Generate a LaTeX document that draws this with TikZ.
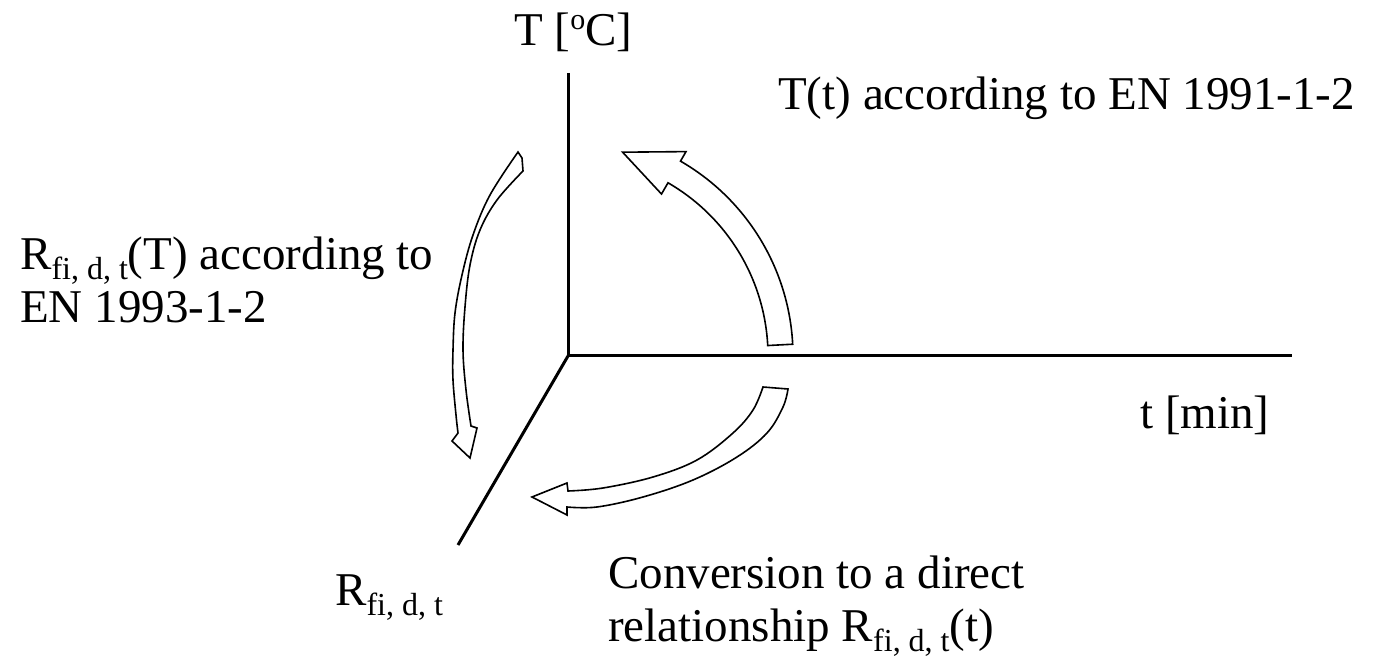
\documentclass[tikz,border=0pt]{standalone}
\usepackage{fontspec}
\setmainfont{Liberation Serif}
\usetikzlibrary{calc}
\newcommand\subfdt{\raisebox{-10pt}{\fontsize{32}{32}\selectfont fi, d, t}}
\newcommand\supo{\raisebox{16pt}{\fontsize{30}{30}\selectfont o}}
\tikzset{
  axisline/.style={line width=3pt, line cap=butt},
  blockarrow/.style={line width=1.6pt, line join=miter, fill=white},
  lbl/.style={inner sep=0pt, anchor=base west, font=\fontsize{47}{53}\selectfont, align=left}
}
\begin{document}
\begin{tikzpicture}[x=1pt,y=-1pt]
\useasboundingbox (0,0) rectangle (1382,668);
% axes
\coordinate (O) at (568,356);
\coordinate (Ttop) at (568,73);
\coordinate (tend) at (1292,356);
\coordinate (Rend) at (458,545);
\draw[axisline] (Ttop) -- (568,357.5);
\draw[axisline] (566.5,356) -- (tend);
\draw[axisline] (O) -- (Rend);
% arrow T(t)
\draw[blockarrow] ($(O)+(3:225pt)$) arc[start angle=3,end angle=60,radius=225pt]
  -- ($(O)+(60:236pt)$) -- ($(O)+(75:211pt)$) -- ($(O)+(60:187pt)$) -- ($(O)+(60:200pt)$)
  arc[start angle=60,end angle=3,radius=200pt] -- cycle;
% arrow R(T)
\draw[blockarrow] plot[smooth,tension=0.6] coordinates {(518,152) (490,195) (473,235) (462,275) (455,313) (453,350) (453,380) (456,415) (458,433)}
  -- (452,441) -- (470,458) -- (477,428) -- (471,426)
  -- plot[smooth,tension=0.6] coordinates {(471,426) (466,390) (463,350) (465,307) (470,265) (480,230) (497,200) (523,171)}
  -- (522,158) -- cycle;
% arrow conversion
\draw[blockarrow] plot[smooth,tension=0.6] coordinates {(788,389) (783,407) (767,433) (737,457) (693,480) (643,497) (597,507) (567,507)}
  -- (567,515) -- (532,497) -- (567,483) -- (568,491)
  -- plot[smooth,tension=0.6] coordinates {(568,491) (603,488) (653,477) (697,460) (733,433) (753,410) (763,387)}
  -- cycle;
% labels
\node[lbl] (Tlab) at (514,46) {T [\supo C]};
\node[lbl] (Ttlab) at (778,110) {T(t) according to EN 1991-1-2};
\node[lbl] (RTlab) at (20,323) {R\subfdt(T) according to\\EN 1993-1-2};
\node[lbl] (tlab) at (1140,428) {t [min]};
\node[lbl] (Rlab) at (335,605) {R\subfdt};
\node[lbl] (convlab) at (608,641) {Conversion to a direct\\relationship R\subfdt(t)};
\end{tikzpicture}
\end{document}
